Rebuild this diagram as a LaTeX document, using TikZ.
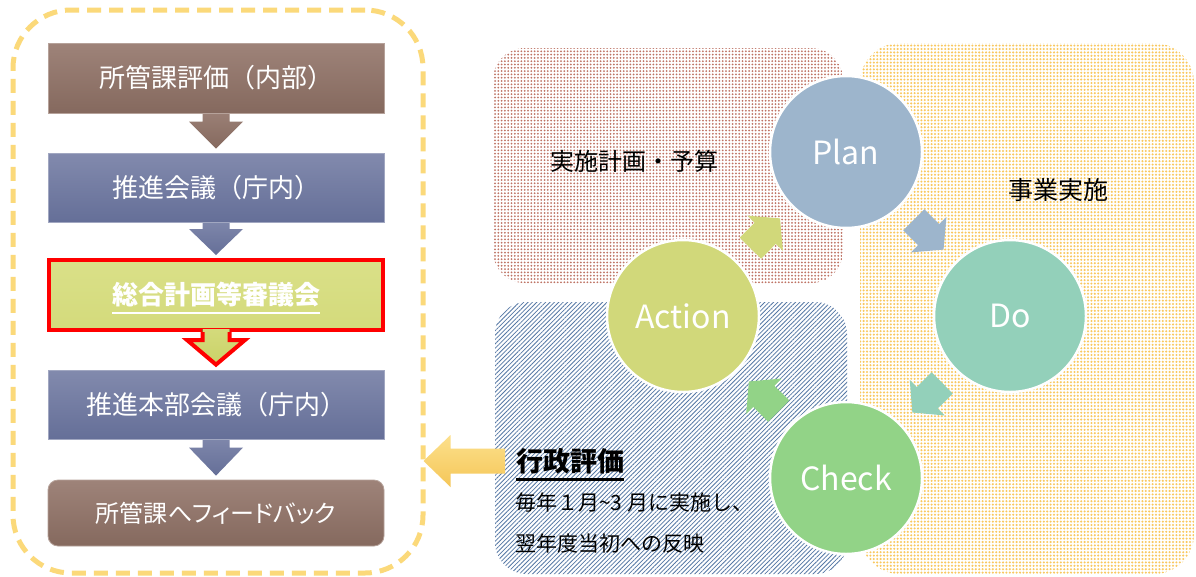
\documentclass[tikz,border=0pt]{standalone}
\usepackage{fontspec}
\setmainfont{Noto Sans CJK JP}
\newfontfamily\jpprop[RawFeature=+palt]{Noto Sans CJK JP}
\usetikzlibrary{calc,patterns.meta}
\pgfdeclarelayer{regions}
\pgfdeclarelayer{arrows}
\pgfsetlayers{regions,arrows,main}
\definecolor{frameY}{RGB}{251,217,122}
\definecolor{brTop}{RGB}{158,131,121}
\definecolor{brBot}{RGB}{133,105,94}
\definecolor{blTop}{RGB}{130,138,173}
\definecolor{blBot}{RGB}{101,111,152}
\definecolor{grTop}{RGB}{218,224,136}
\definecolor{grBot}{RGB}{202,210,104}
\definecolor{cPlan}{RGB}{157,181,204}
\definecolor{cDo}{RGB}{147,208,186}
\definecolor{cCheck}{RGB}{146,211,135}
\definecolor{cAction}{RGB}{209,216,122}
\definecolor{dotBrown}{RGB}{190,115,100}
\definecolor{dotYellow}{RGB}{249,200,95}
\definecolor{lineBlue}{RGB}{85,120,165}
\definecolor{arrYa}{RGB}{252,224,140}
\definecolor{arrYb}{RGB}{245,198,88}
\newcommand\fs[1]{\fontsize{#1}{#1}\selectfont}
\newcommand\myul[2]{\setbox0=\hbox{#2}\rlap{\smash{\color{#1}\rule[-9.5pt]{\wd0}{2.5pt}}}\box0}
\newcommand\blockarrow[6]{%
  \coordinate (bah) at ($(#3)!#6!(#2)$);
  \path[#1] ($(#2)!#4!90:(#3)$) -- ($(bah)!#4!90:(#3)$) -- ($(bah)!#5!90:(#3)$) -- (#3)
    -- ($(bah)!#5!-90:(#3)$) -- ($(bah)!#4!-90:(#3)$) -- ($(#2)!#4!-90:(#3)$) -- cycle;
}
\begin{document}
\begin{tikzpicture}[x=1pt,y=-1pt,
  every node/.style={inner sep=0pt},
  flowbox/.style={minimum width=336pt, minimum height=69pt, text=white, font=\fs{26}},
  brownbox/.style={flowbox, top color=brTop, bottom color=brBot, draw=brTop!75!white, line width=0.8pt},
  bluebox/.style={flowbox, top color=blTop, bottom color=blBot, draw=blTop!75!white, line width=0.8pt},
  greenbox/.style={flowbox, minimum width=334pt, minimum height=70pt, top color=grTop, bottom color=grTop!60!grBot, draw=red, line width=4pt, font=\fs{26}\bfseries},
  brownarrow/.style={top color=brTop!85!brBot, bottom color=brBot},
  bluearrow/.style={top color=blTop!85!blBot, bottom color=blBot},
  pdca/.style={circle, minimum size=152pt, draw=white, line width=2.5pt, text=white, font=\fs{32}},
  region/.style={rounded corners=32pt},
  label/.style={text=black, font=\fs{24}},
]
\useasboundingbox (0,0) rectangle (1196,576);

% regions
\begin{pgfonlayer}{regions}
\fill[white] (0,0) rectangle (1196,576);
\node[region, minimum width=350pt, minimum height=235pt, pattern={Dots[radius=1pt,distance=3.3pt]}, pattern color=dotBrown] (rbudget) at (668,165.5) {};
\node[region, minimum width=352pt, minimum height=272pt, pattern={Lines[angle=45,distance=3.1pt,line width=0.8pt]}, pattern color=lineBlue] (reval) at (671,438) {};
\node[region, rounded corners=40pt, minimum width=334pt, minimum height=531pt, pattern={Dots[radius=1.15pt,distance=3.4pt]}, pattern color=dotYellow] (rexec) at (1027,308.5) {};
\end{pgfonlayer}

% left frame
\node[draw=frameY, line width=5pt, dash pattern=on 14pt off 8pt, rounded corners=58pt, minimum width=410pt, minimum height=563pt] (frame) at (218,291.5) {};

% flow boxes
\node[brownbox, minimum height=70pt] (b1) at (216,78) {所管課評価（内部）};
\node[bluebox] (b2) at (216,187.5) {推進会議（庁内）};
\node[greenbox] (b3) at (216,295) {\myul{white}{総合計画等審議会}};
\node[bluebox] (b4) at (216,404.5) {推進本部会議（庁内）};
\node[brownbox, rounded corners=10pt, minimum height=66pt, font=\fs{24}] (b5) at (216,513) {{\jpprop 所管課へフィードバック}};

% flow arrows
\begin{pgfonlayer}{arrows}
\coordinate (a1e) at ($(b2.north)+(0,-4)$);
\blockarrow{brownarrow}{b1.south}{a1e}{13.5pt}{27pt}{27pt}
\coordinate (a2e) at ($(b3.north)+(0,-3)$);
\blockarrow{bluearrow}{b2.south}{a2e}{13.5pt}{27pt}{26pt}
\coordinate (a4e) at ($(b5.north)+(0,-4)$);
\blockarrow{bluearrow}{b4.south}{a4e}{13.5pt}{27pt}{28pt}
\end{pgfonlayer}
% red outlined arrow from b3 to b4
\coordinate (a3s) at (b3.south);
\coordinate (a3t) at ($(b4.north)+(0,-5)$);
\fill[top color=grTop!60!grBot, bottom color=grBot] ($(a3s)+(-13.5,-3)$) -- ($(a3s)+(-13.5,8)$) -- ($(a3s)+(-29,8)$) -- (a3t) -- ($(a3s)+(29,8)$) -- ($(a3s)+(13.5,8)$) -- ($(a3s)+(13.5,-3)$) -- cycle;
\draw[red, line width=4pt, line join=miter] ($(a3s)+(-13.5,0)$) -- ($(a3s)+(-13.5,8)$) -- ($(a3s)+(-29,8)$) -- (a3t) -- ($(a3s)+(29,8)$) -- ($(a3s)+(13.5,8)$) -- ($(a3s)+(13.5,0)$);

% region labels
\node[label] (tbudget) at (634,161) {実施計画・予算};
\node[label, font=\fs{25}] (texec) at (1058,190) {事業実施};

% PDCA circles
\node[pdca, fill=cPlan] (plan) at (846,152) {Plan};
\node[pdca, fill=cDo] (do) at (1010,316) {Do};
\node[pdca, fill=cCheck] (check) at (846,478) {Check};
\node[pdca, fill=cAction] (action) at (683,316) {Action};

\begin{pgfonlayer}{arrows}
\coordinate (m1) at ($(action)!0.5!(plan)$);
\coordinate (s1) at ($(m1)!20pt!(action)$);
\coordinate (e1) at ($(m1)!22pt!(plan)$);
\blockarrow{fill=cAction}{s1}{e1}{15pt}{25pt}{21pt}
\coordinate (m2) at ($(plan)!0.5!(do)$);
\coordinate (s2) at ($(m2)!20pt!(plan)$);
\coordinate (e2) at ($(m2)!22pt!(do)$);
\blockarrow{fill=cPlan}{s2}{e2}{15pt}{25pt}{21pt}
\coordinate (m3) at ($(do)!0.5!(check)$);
\coordinate (s3) at ($(m3)!20pt!(do)$);
\coordinate (e3) at ($(m3)!22pt!(check)$);
\blockarrow{fill=cDo}{s3}{e3}{15pt}{25pt}{21pt}
\coordinate (m4) at ($(check)!0.5!(action)$);
\coordinate (s4) at ($(m4)!20pt!(check)$);
\coordinate (e4) at ($(m4)!22pt!(action)$);
\blockarrow{fill=cCheck}{s4}{e4}{15pt}{25pt}{21pt}
\end{pgfonlayer}

% evaluation text
\node[anchor=west, font=\fs{27}\bfseries] (gyosei) at (516,461) {\myul{black}{行政評価}};
\node[anchor=west, font=\fs{21}] (line1) at (515,503) {毎年１月\textasciitilde 3 月に実施し、};
\node[anchor=west, font=\fs{21}] (line2) at (515,543) {翌年度当初への反映};

% feedback arrow to frame
\coordinate (ys) at ($(gyosei.west)+(-11,0)$);
\coordinate (ye) at ($(frame.east |- ys)+(-2,0)$);
\blockarrow{top color=arrYa, bottom color=arrYb}{ys}{ye}{12.5pt}{26pt}{27pt}
\end{tikzpicture}
\end{document}
